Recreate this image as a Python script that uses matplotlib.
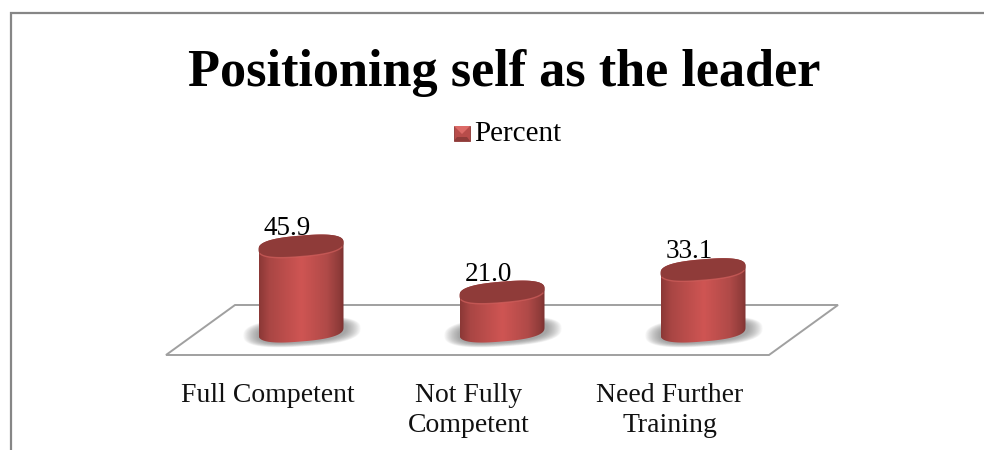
#!/usr/bin/env python
# -*- coding: utf-8 -*-
import numpy as np
import matplotlib
matplotlib.use('Agg')
import matplotlib.pyplot as plt
from matplotlib.colors import LinearSegmentedColormap
from matplotlib.patches import PathPatch, Polygon
from matplotlib.path import Path

categories = ['Full Competent', 'Not Fully\nCompetent', 'Need Further\nTraining']
percent = [45.9, 21.0, 33.1]
value_labels = ['45.9', '21.0', '33.1']

W, H = 984, 450
PX_PER_UNIT = 1.85   # pixels per percent
PX_PER_CAT = 201.0
BASE_PX = 331.0      # pixel row of value 0
FIRST_PX = 301.0     # pixel column of first category

plt.rcParams['font.family'] = ['Liberation Serif', 'DejaVu Serif']

fig = plt.figure(figsize=(W / 100, H / 100), dpi=100)
ax = fig.add_axes([0, 0, 1, 1])
# limits chosen so one category is 201px and one percent is 1.85px
ax.set_xlim(-FIRST_PX / PX_PER_CAT, (W - FIRST_PX) / PX_PER_CAT)
ax.set_ylim((BASE_PX - H) / PX_PER_UNIT, BASE_PX / PX_PER_UNIT)
ax.axis('off')


def xp(dx):
    return dx / PX_PER_CAT


def yp(dy):
    return dy / PX_PER_UNIT


def px(x, y):
    # picture pixel to data position, for frame, title and legend
    return (x - FIRST_PX) / PX_PER_CAT, (BASE_PX - y) / PX_PER_UNIT


# frame: no right or bottom line, the chart is cut there
frame_pts = [px(11, 450), px(11, 13), px(984, 13)]
ax.plot(*zip(*frame_pts), color='#868686', lw=1.6, solid_joinstyle='miter', zorder=1)

# floor of the 3d plot
floor = [px(166, 355), px(235, 305), px(838, 305), px(769, 355)]
ax.add_patch(Polygon(floor, closed=True, fc='white', ec='#a0a0a0', lw=1.4, zorder=2))

cmap = LinearSegmentedColormap.from_list('cyl', [
    (0.0, '#8a3836'), (0.12, '#a94644'), (0.5, '#cf5553'),
    (0.8, '#b04a48'), (0.95, '#8e3b39'), (1.0, '#7a302f')])
grad = np.linspace(0, 1, 256).reshape(1, -1)

half_w = 42.5
half_h = 10.5
lean = 3.5    # right end of the ellipse sits this many px higher
EXP = 0.76    # <1 gives the rounder, slightly squared ellipse of the bevel


def rim(cx, cy, t, a=half_w, b=half_h):
    c, s = np.cos(t), np.sin(t)
    c = np.sign(c) * np.abs(c) ** EXP
    s = np.sign(s) * np.abs(s) ** EXP
    return cx + xp(a) * c, cy + yp(b) * s + yp(lean) * c


for i, v in enumerate(percent):
    # soft shadow on the floor
    t = np.linspace(0, 2 * np.pi, 120)
    for k in np.linspace(1.0, 0.0, 14):
        sx, sy = rim(i + xp(1), yp(-1), t, half_w + 2 + 14 * k, half_h + 4 * k)
        ax.fill(sx, sy, fc='#666666', ec='none', alpha=0.055, zorder=3)

    # side of the cylinder, shaded through imshow and clipped
    bx, by = rim(i, 0, np.linspace(np.pi, 2 * np.pi, 60))
    tx, ty = rim(i, v, np.linspace(0, np.pi, 60))
    verts = np.column_stack([np.r_[bx, tx], np.r_[by, ty]])
    body = PathPatch(Path(np.vstack([verts, verts[0]]), closed=True), fc='none', ec='none')
    ax.add_patch(body)
    im = ax.imshow(grad, cmap=cmap, aspect='auto', zorder=4,
                   extent=[i - xp(half_w), i + xp(half_w), -yp(15), v + yp(15)])
    im.set_clip_path(body)

    # top of the cylinder
    ex, ey = rim(i, v, t)
    ax.fill(ex, ey, fc='#8f3b39', ec='none', zorder=5)
    ex, ey = rim(i, v, np.linspace(np.pi * 1.1, np.pi * 1.9, 60))
    ax.plot(ex, ey, color='#d2605d', lw=1.0, alpha=0.7, zorder=6)

    ax.text(i - xp(14), v + yp(18), value_labels[i], ha='center', va='center',
            fontsize=19.5, color='black', zorder=7)

# category labels sit left of the bars, as in the original
for i, c in enumerate(categories):
    ax.text(i - xp(33.5), px(0, 392)[1] + yp(9), c, ha='center', va='top',
            fontsize=20, linespacing=1.27, zorder=7, color='#111111')

# title, legend
tx0, ty0 = px(504, 73)
ax.text(tx0, ty0, 'Positioning self as the leader', ha='center', va='center',
        fontsize=37.6, fontweight='bold', color='black', zorder=7)

# legend key with the small bevel
l, r, top, bot = 454, 470, 126, 141
ax.add_patch(Polygon([px(l, top), px(r, top), px(r, bot), px(l, bot)], closed=True,
                     fc='#b84c4a', ec='#8c3836', lw=0.6, zorder=7))
ax.add_patch(Polygon([px(l, top), px(r, top), px(462, 134)], closed=True, fc='#dc6a67', ec='none', zorder=8))
ax.add_patch(Polygon([px(l, bot), px(r, bot), px(r - 3, bot - 4), px(l + 3, bot - 4)], closed=True,
                     fc='#8f3b39', ec='none', zorder=8))
lx, ly = px(474, 134)
ax.text(lx, ly, 'Percent', ha='left', va='center', fontsize=21, color='black', zorder=7)

fig.savefig('out.png', dpi=100)
